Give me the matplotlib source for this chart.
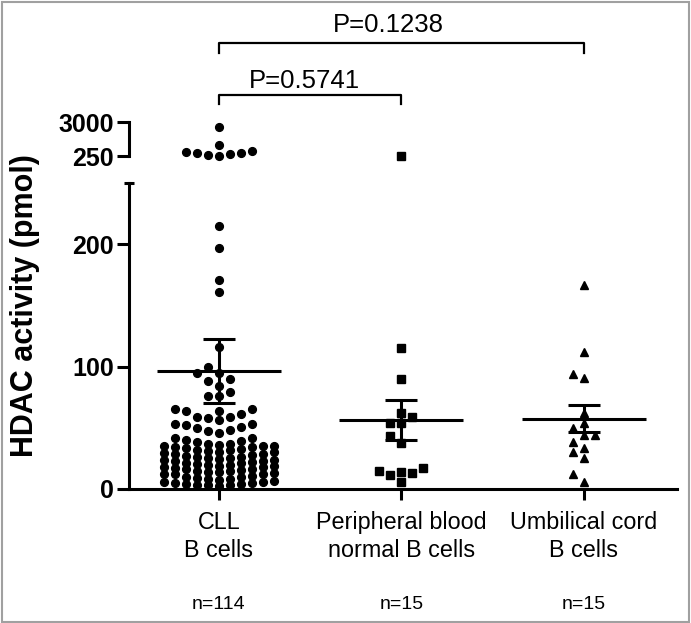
import numpy as np
import matplotlib
matplotlib.use("Agg")
import matplotlib.pyplot as plt
from matplotlib.patches import Rectangle
from matplotlib.transforms import blended_transform_factory

plt.rcParams['font.family'] = ['Liberation Sans', 'DejaVu Sans']

# --- data (pmol) ---
categories = ["CLL\nB cells", "Peripheral blood\nnormal B cells", "Umbilical cord\nB cells"]
n_labels = ["n=114", "n=15", "n=15"]

cll = [2595, 1140, 630, 549, 517, 468, 387, 331, 260,
       215, 197, 171, 161,
       116, 100, 95, 95, 90, 88, 84, 79, 76, 76,
       65, 64, 59, 58, 59, 61, 64, 65,
       56, 53, 51, 48, 47, 50, 52, 53, 46, 42, 42,
       40, 39, 38,
       37, 36.5, 36, 35, 35.5, 34, 35, 34.5, 33, 33.5,
       32, 31, 31.5, 30, 30.5, 29, 29.5, 28, 28.5,
       27, 26.5, 26, 25, 25.5, 24, 24.5, 23, 23.5, 22.5,
       22, 21, 21.5, 20, 20.5, 19, 19.5, 18, 18.5, 18,
       17, 16.5, 16, 15, 15.5, 14, 14.5, 13, 13.5, 12.5, 12, 12,
       11, 10, 9.5, 9, 8.5, 8, 7, 6.5, 6, 5.5,
       5, 4.5, 4, 4, 3.5, 3, 3, 2.5]
pb = [255, 115, 89.5, 62.3, 58.8, 53.6, 53.6, 43.3, 37.3, 16.9, 12.8, 15, 11.4, 14.1, 6]
uc = [166.5, 112, 93.6, 90.3, 61.8, 53.6, 49.5, 44, 44, 38.6, 33.2, 30.5, 25.6, 12.2, 6]

groups = [cll, pb, uc]
markers = ['o', 's', '^']
msizes = [5.6, 5.2, 6.0]
BREAK = 250

W, H = 691, 623
fig = plt.figure(figsize=(W / 100, H / 100), dpi=100)
fig.add_artist(Rectangle((2 / W, 1.5 / H), (W - 4.5) / W, (H - 3.5) / H,
                         transform=fig.transFigure, fill=False,
                         edgecolor='#a0a0a0', lw=1.5))

ax_lo = fig.add_axes([129 / W, (H - 489) / H, (677 - 129) / W, (489 - 183) / H])
ax_hi = fig.add_axes([129 / W, (H - 156) / H, (677 - 129) / W, (156 - 122) / H])
ax_lo.patch.set_alpha(0)
ax_hi.patch.set_alpha(0)

xlim = (-0.493, 2.51)
lw = 2.2
for ax in (ax_lo, ax_hi):
    ax.set_xlim(*xlim)
    for s in ('top', 'right'):
        ax.spines[s].set_visible(False)
    for s in ('left', 'bottom'):
        ax.spines[s].set_linewidth(lw)
ax_lo.set_ylim(0, BREAK)
ax_hi.set_ylim(BREAK, 3000)
ax_hi.spines['bottom'].set_visible(False)


def swarm(ax, xc, vals, step_px=11, min_px=9.0, kmax=5):
    # column scatter: spread sideways on a fixed grid, overlap when full
    vals = np.asarray(vals, float)
    tr = ax.transData
    ypx = tr.transform(np.column_stack([np.full(len(vals), xc), vals]))[:, 1]
    px_per_x = tr.transform([(1, 0)])[0, 0] - tr.transform([(0, 0)])[0, 0]
    cands = [0]
    for k in range(1, kmax + 1):
        cands += [-k, k]
    placed = []
    xoff = np.zeros(len(vals))
    for i in np.argsort(vals, kind='stable'):
        best, best_d = 0, -1.0
        for k in cands:
            x = k * step_px
            d = min([np.hypot(x - px, ypx[i] - py) for px, py in placed] or [1e9])
            if d >= min_px:
                best = k
                break
            if d > best_d:
                best, best_d = k, d
        placed.append((best * step_px, ypx[i]))
        xoff[i] = best
    return xc + xoff * step_px / px_per_x


for i, vals in enumerate(groups):
    vals = np.asarray(vals, float)
    lo = vals[vals <= BREAK]
    hi = vals[vals > BREAK]
    for ax, part in ((ax_lo, lo), (ax_hi, hi)):
        if len(part):
            xs = swarm(ax, i, part)
            ax.plot(xs, part, linestyle='none', marker=markers[i], ms=msizes[i],
                    color='black', mec='black', clip_on=False, zorder=2)
    mean = vals.mean()
    sem = vals.std(ddof=1) / np.sqrt(len(vals))
    ax_lo.plot([i - 0.34, i + 0.34], [mean, mean], color='black', lw=lw,
               solid_capstyle='butt', zorder=3)
    ax_lo.errorbar(i, mean, yerr=sem, fmt='none', ecolor='black', elinewidth=lw,
                   capsize=11.5, capthick=lw, zorder=3)

# y axes
ax_lo.set_yticks([0, 100, 200], labels=['0', '100', '200'], fontsize=18, fontweight='bold')
ax_lo.set_yticks([BREAK], labels=[''], minor=True)
ax_lo.tick_params(axis='y', which='major', direction='out', length=9, width=lw, pad=2)
ax_lo.tick_params(axis='y', which='minor', direction='inout', length=7.5, width=lw)
ax_hi.set_yticks([BREAK, 3000], labels=['250', '3000'], fontsize=18, fontweight='bold')
ax_hi.set_yticks([BREAK], labels=[''], minor=True)
ax_hi.tick_params(axis='y', which='major', direction='out', length=9, width=lw, pad=2)
ax_hi.tick_params(axis='y', which='minor', direction='in', length=4.5, width=lw)
ax_hi.tick_params(axis='x', bottom=False, labelbottom=False)

# x axis
ax_lo.set_xticks([0, 1, 2], labels=categories, fontsize=16.8)
ax_lo.tick_params(axis='x', direction='out', length=8, width=lw, pad=8)
for lbl in ax_lo.get_xticklabels():
    lbl.set_linespacing(1.25)

trans = blended_transform_factory(ax_lo.transData, fig.transFigure)
for i, t in enumerate(n_labels):
    ax_lo.text(i, (H - 609) / H, t, transform=trans, ha='center', va='baseline', fontsize=14)

fig.text(25 / W, (H - 306) / H, "HDAC activity (pmol)", rotation=90, ha='center', va='center',
         fontsize=22, fontweight='bold')

# significance brackets
def bracket(x0, x1, ytop, yleg, label, xtext, ytext):
    ax_lo.plot([x0, x0, x1, x1], [(H - yleg) / H, (H - ytop) / H, (H - ytop) / H, (H - yleg) / H],
               transform=trans, color='black', lw=1.6, clip_on=False)
    ax_lo.text(xtext, (H - ytext) / H, label, transform=trans, ha='center', va='baseline',
               fontsize=18.5)

bracket(0, 2, 43, 53, "P=0.1238", 0.93, 32.3)
bracket(0, 1, 95, 104, "P=0.5741", 0.47, 88.3)

fig.savefig("out.png", dpi=100)
